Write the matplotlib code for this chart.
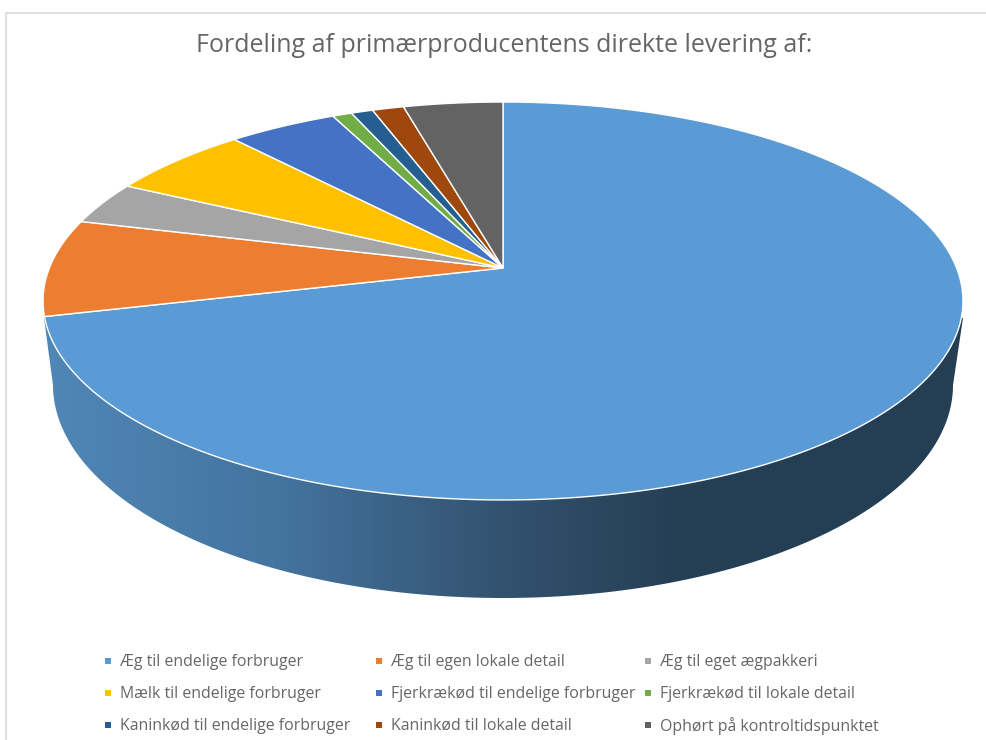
import numpy as np
import matplotlib
matplotlib.use('Agg')
import matplotlib.pyplot as plt
from matplotlib.colors import LinearSegmentedColormap
from matplotlib.patches import Polygon

title = 'Fordeling af primærproducentens direkte levering af:'
labels = ['Æg til endelige forbruger', 'Æg til egen lokale detail', 'Æg til eget ægpakkeri',
          'Mælk til endelige forbruger', 'Fjerkrækød til endelige forbruger', 'Fjerkrækød til lokale detail',
          'Kaninkød til endelige forbruger', 'Kaninkød til lokale detail', 'Ophørt på kontroltidspunktet']
values = [71.2, 7.9, 3.5, 5.9, 4.5, 0.8, 0.9, 1.3, 4.1]
colors = ['#5B9BD5', '#ED7D31', '#A5A5A5', '#FFC000', '#4472C4', '#70AD47', '#255E91', '#9E480E', '#636363']

# pie centre and tilt, in pixels
cx, cy = 503, 268
rx, ky, persp = 453.6, 193.5, 0.1658


def project(theta):
    # theta runs clockwise from 12 o'clock, circle is seen in perspective
    x = np.sin(theta)
    y = np.cos(theta)
    w = 1 + persp * y
    return cx + rx * x / w, cy - ky * y / w


fig = plt.figure(figsize=(9.87, 7.4), dpi=100)
ax = fig.add_axes([0, 0, 1, 1])
ax.set_xlim(0, 987)
ax.set_ylim(740, 0)
ax.axis('off')

# chart frame
ax.plot([6, 6, 987], [740, 13, 13], color='#e0e0e0', lw=1.5)

# side wall, lower half of a smaller ellipse under the top face
t = np.linspace(0, np.pi, 200)
wall_x = 503 + 450 * np.cos(t)
wall_y = 385 + 213 * np.sin(t)
wall = np.column_stack([np.r_[963, wall_x, 44, 503], np.r_[318, wall_y, 318, 300]])
cmap = LinearSegmentedColormap.from_list('wall', [(0, '#5087B6'), (0.25, '#4474A0'), (0.5, '#33526F'),
                                                  (0.7, '#243E54'), (1, '#243E54')])
grad = np.linspace(0, 1, 256).reshape(1, -1)
img = ax.imshow(grad, extent=[44, 963, 600, 300], cmap=cmap, aspect='auto', zorder=1)
patch = Polygon(wall, closed=True, transform=ax.transData, fc='none', ec='none')
ax.add_patch(patch)
img.set_clip_path(patch)
ax.set_xlim(0, 987)
ax.set_ylim(740, 0)

# top face slices
edges = np.r_[0, np.cumsum(values)] / np.sum(values) * 2 * np.pi
for i, c in enumerate(colors):
    th = np.linspace(edges[i], edges[i + 1], 300)
    px, py = project(th)
    ax.fill(np.r_[cx, px], np.r_[cy, py], fc=c, ec='white', lw=1.0, zorder=2)

ax.text(504, 45, title, ha='center', va='center', fontsize=18, color='#666666', family='Open Sans')

# legend, three equal columns
col_x = [108, 379, 648]
row_y = [661, 693, 725]
for i, lab in enumerate(labels):
    r, c = divmod(i, 3)
    ax.scatter(col_x[c], row_y[r], s=20, marker='s', color=colors[i], lw=0, zorder=3)
    ax.text(col_x[c] + 12, row_y[r] + 1, lab, va='center', ha='left', fontsize=11.4, color='#666666', family='Open Sans')

fig.savefig('out.png', dpi=100)
